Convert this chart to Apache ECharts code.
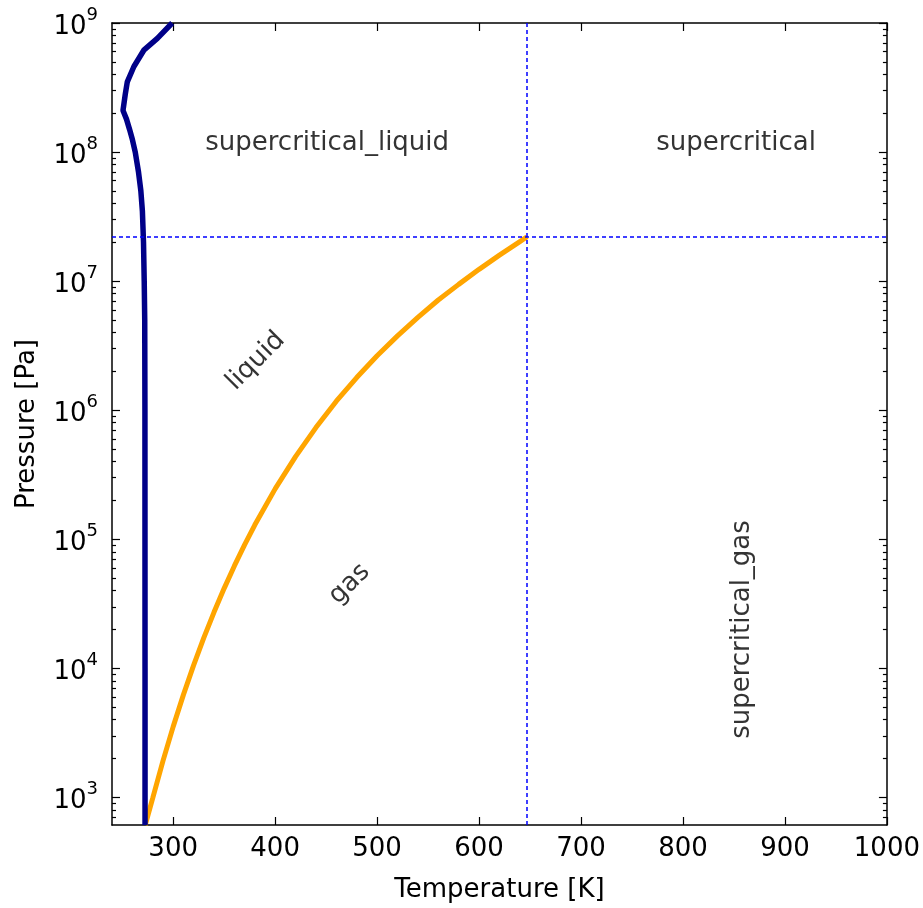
<!DOCTYPE html>
<html>
<head>
<meta charset="utf-8">
<script src="https://cdn.jsdelivr.net/npm/echarts@6/dist/echarts.min.js"></script>
<style>
  html, body { margin: 0; padding: 0; background: #fff; }
  #chart { width: 923px; height: 908px; }
</style>
</head>
<body>
<div id="chart"></div>
<script>
// phase diagram of water: melting curve, vaporisation curve, critical point
var meltT = [272.4, 272.4, 272.3, 272.1, 271.6, 270.9, 269.8, 268.3, 266, 262.8, 260, 257.2, 254.2, 250.8, 253, 255, 261.5, 271.5, 284.5, 299];
var meltP = [611.657, 1e4, 1e6, 5e6, 1e7, 2e7, 3.5e7, 5e7, 7e7, 1e8, 1.25e8, 1.5e8, 1.8e8, 2.1e8, 2.8e8, 3.5e8, 4.6e8, 6.2e8, 7.6e8, 1e9];

var vapT = [272.6, 280, 290, 300, 310, 320, 330, 340, 350, 360, 370, 380, 400, 420, 440, 460, 480, 500, 520, 540, 560, 580, 600, 620, 640, 647.096];
var vapP = [611.657, 991.8, 1920, 3537, 6231, 10546, 17213, 27188, 41682, 62194, 90535, 128920, 245770, 437000, 733600, 1175200, 1791000, 2639200, 3765600, 5237000, 7143000, 9442300, 12345000, 15901000, 20265000, 22064000];

var critT = 647.096;
var critP = 22064000;

var regionNames = ['supercritical_liquid', 'supercritical', 'liquid', 'gas', 'supercritical_gas'];
var regionT = [451, 852, 381, 473, 858];
var regionP = [1.17e8, 1.17e8, 2.4e6, 4.5e4, 2e4];
var regionRot = [0, 0, 45, 45, 90];

var xTicks = [300, 400, 500, 600, 700, 800, 900, 1000];
var yMajor = [1e3, 1e4, 1e5, 1e6, 1e7, 1e8, 1e9];
var yMantissa = [2, 3, 4, 5, 6, 7, 8, 9];
var yMin = 611.657, yMax = 1e9;

var yMinor = [];
for (var e = 2; e <= 8; e++) {
  yMantissa.forEach(function (m) {
    var v = m * Math.pow(10, e);
    if (v > yMin && v < yMax) yMinor.push(v);
  });
}

function zip(a, b) {
  return a.map(function (v, i) { return [v, b[i]]; });
}

var FONT = 'DejaVu Sans';
var FS = 26;
var chart = echarts.init(document.getElementById('chart'));

function xAx(pos, labels) {
  return {
    type: 'value', position: pos, min: 240, max: 1000,
    splitLine: { show: false },
    axisLine: { show: true, onZero: false, lineStyle: { color: '#000', width: 1.5 } },
    axisTick: { show: true, inside: true, length: 8, customValues: xTicks, lineStyle: { color: '#000', width: 1.2 } },
    axisLabel: {
      show: labels, customValues: xTicks, margin: 11,
      formatter: function (v) { return String(v); },
      fontFamily: FONT, fontSize: FS, color: '#000'
    },
    name: labels ? 'Temperature [K]' : '',
    nameLocation: 'middle', nameGap: 52,
    nameTextStyle: { fontFamily: FONT, fontSize: FS, color: '#000' }
  };
}

function yAx(pos, ticks, len, labels, line) {
  return {
    type: 'log', position: pos, min: yMin, max: yMax, logBase: 10,
    splitLine: { show: false },
    axisLine: { show: line, onZero: false, lineStyle: { color: '#000', width: 1.5 } },
    axisTick: { show: true, inside: true, length: len, customValues: ticks, lineStyle: { color: '#000', width: 1.2 } },
    axisLabel: {
      show: labels, customValues: ticks, margin: 14,
      formatter: function (v) {
        return '{b|10}{s|' + Math.round(Math.log10(v)) + '}';
      },
      rich: {
        b: { fontFamily: FONT, fontSize: FS, color: '#000', verticalAlign: 'bottom', lineHeight: 34 },
        s: { fontFamily: FONT, fontSize: 18, color: '#000', verticalAlign: 'top', lineHeight: 18 }
      }
    },
    name: labels ? 'Pressure [Pa]' : '',
    nameLocation: 'middle', nameGap: 72,
    nameTextStyle: { fontFamily: FONT, fontSize: FS, color: '#000' }
  };
}

var option = {
  animation: false,
  backgroundColor: '#fff',
  grid: { left: 112, right: 33, top: 23, bottom: 73, containLabel: false },
  xAxis: [xAx('bottom', true), xAx('top', false)],
  yAxis: [
    yAx('left', yMajor, 8, true, true),
    yAx('left', yMinor, 4, false, false),
    yAx('right', yMajor, 8, false, true),
    yAx('right', yMinor, 4, false, false)
  ],
  series: [
    {
      name: 'critical', type: 'line', data: [], xAxisIndex: 0, yAxisIndex: 0,
      markLine: {
        silent: true, symbol: 'none', label: { show: false },
        lineStyle: { color: '#0000ff', width: 1.5, type: [4, 3] },
        data: [{ xAxis: critT }, { yAxis: critP }]
      }
    },
    {
      name: 'vaporisation', type: 'line', data: zip(vapT, vapP),
      showSymbol: false, smooth: false, clip: true,
      lineStyle: { color: '#ffa500', width: 5 }, z: 3
    },
    {
      name: 'melting', type: 'line', data: zip(meltT, meltP),
      showSymbol: false, smooth: false, clip: true,
      lineStyle: { color: '#000088', width: 5.5 }, z: 4
    },
    {
      name: 'regions', type: 'scatter', symbolSize: 0, silent: true, z: 5,
      data: regionNames.map(function (n, i) {
        return {
          value: [regionT[i], regionP[i]], name: n,
          label: { rotate: regionRot[i] }
        };
      }),
      label: {
        show: true, position: 'inside', formatter: '{b}',
        fontFamily: FONT, fontSize: FS, color: '#000'
      }
    }
  ]
};
chart.setOption(option);
</script>
</body>
</html>
